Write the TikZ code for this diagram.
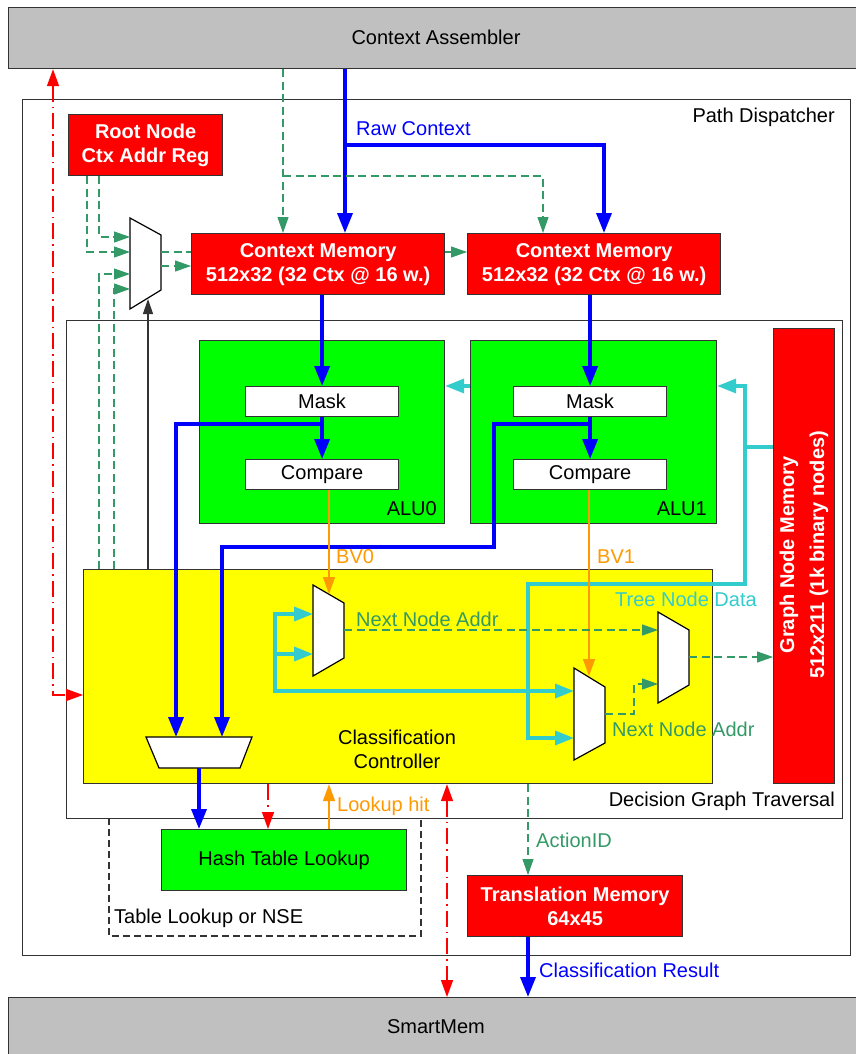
\documentclass[tikz,border=0pt]{standalone}
\usepackage{fontspec}
\setmainfont{Liberation Sans}
\usetikzlibrary{arrows.meta}
\definecolor{memred}{HTML}{FF0000}
\definecolor{alugreen}{HTML}{00FF00}
\definecolor{ctrlyellow}{HTML}{FFFF00}
\definecolor{hostgray}{HTML}{C0C0C0}
\definecolor{rawblue}{HTML}{0000FF}
\definecolor{treecyan}{HTML}{33CCCC}
\definecolor{bvorange}{HTML}{FF9900}
\definecolor{addrgreen}{HTML}{339966}
\definecolor{edge}{HTML}{333333}
\tikzset{
  cyantip/.tip={Triangle[length=19pt,width=14pt]},
  redtip/.tip={Triangle[length=17pt,width=12pt]}
}
\begin{document}
\begin{tikzpicture}[x=1pt,y=-1pt,
  font=\fontsize{20}{24}\selectfont,
  box/.style={draw=edge, line width=1.2pt, inner sep=0pt, anchor=north west},
  membox/.style={box, fill=memred, text=white, font=\fontsize{20}{24}\selectfont\bfseries, align=center},
  alubox/.style={box, fill=alugreen},
  unit/.style={box, fill=white},
  hostbox/.style={box, fill=hostgray},
  muxshape/.style={draw=black, line width=1.2pt, fill=white},
  lbl/.style={inner sep=0pt},
  bluearr/.style={draw=rawblue, line width=3.5pt, -{Triangle[length=20pt,width=15pt]}},
  cyanline/.style={draw=treecyan, line width=3.5pt},
  cyanarr/.style={cyanline, -cyantip},
  gdashline/.style={draw=addrgreen, line width=1.1pt, dash pattern=on 8pt off 4.5pt},
  gdash/.style={gdashline, -{Triangle[length=16pt,width=11pt]}},
  orangearr/.style={draw=bvorange, line width=1.6pt, -{Triangle[length=17pt,width=12pt]}},
  reddd/.style={draw=memred, line width=1.5pt, dash pattern=on 16pt off 5pt on 1.5pt off 5pt},
  blackarr/.style={draw=edge, line width=1.2pt, -{Triangle[length=15pt,width=10pt]}}
]
\useasboundingbox (0,0) rectangle (855,1054);

% ---------- outer blocks ----------
\node[hostbox, minimum width=870pt, minimum height=61pt] (ca) at (8,7) {};
\node[lbl] (catext) at (436,37) {Context Assembler};
\node[hostbox, minimum width=870pt, minimum height=80pt] (sm) at (8,997) {};
\node[lbl] (smtext) at (436,1027) {SmartMem};

\node[box, minimum width=828pt, minimum height=856pt] (pd) at (22,99) {};
\node[lbl, anchor=east] (pdtext) at (835,117) {Path Dispatcher};

% table lookup frame (top edge lies under the traversal frame)
\draw[edge, line width=1.2pt, dash pattern=on 7pt off 4pt] (109,818) rectangle (421,936);
\node[lbl, anchor=west] (nsetext) at (114,918) {Table Lookup or NSE};

\node[box, fill=white, minimum width=776pt, minimum height=498pt] (dgt) at (66,320) {};
\node[lbl, anchor=east] (dgttext) at (835,801) {Decision Graph Traversal};

% ---------- memories ----------
\node[membox, minimum width=154pt, minimum height=61pt] (root) at (68,114) {Root Node\\Ctx Addr Reg};
\node[membox, minimum width=253pt, minimum height=61pt] (cm0) at (191,233) {Context Memory\\512x32 (32 Ctx @ 16 w.)};
\node[membox, minimum width=253pt, minimum height=61pt] (cm1) at (467,233) {Context Memory\\512x32 (32 Ctx @ 16 w.)};
\node[membox, minimum width=61pt, minimum height=455pt] (gnm) at (773,328) {};
\node[lbl, rotate=90, text=white, font=\fontsize{20}{30}\selectfont\bfseries, align=center] (gnmtext) at (804,555) {Graph Node Memory\\512x211 (1k binary nodes)};
\node[membox, minimum width=215pt, minimum height=61pt] (tm) at (467,875) {Translation Memory\\64x45};

% ---------- ALUs ----------
\node[alubox, minimum width=245pt, minimum height=183pt] (alu0) at (199,340) {};
\node[lbl, anchor=east] (alu0text) at (437,509) {ALU0};
\node[unit, minimum width=153pt, minimum height=30pt] (mask0) at (245,386) {Mask};
\node[unit, minimum width=153pt, minimum height=30pt] (compare0) at (245,459) {Compare};

\node[alubox, minimum width=246pt, minimum height=183pt] (alu1) at (470,340) {};
\node[lbl, anchor=east] (alu1text) at (707,509) {ALU1};
\node[unit, minimum width=153pt, minimum height=30pt] (mask1) at (513,386) {Mask};
\node[unit, minimum width=153pt, minimum height=30pt] (compare1) at (513,459) {Compare};

% ---------- controller & lookup ----------
\node[box, fill=ctrlyellow, minimum width=629pt, minimum height=214pt] (cc) at (83,569) {};
\node[lbl, align=center] (cctext) at (397,749) {Classification\\Controller};
\node[alubox, minimum width=245pt, minimum height=61pt] (hash) at (161,829) {Hash Table Lookup};

% ---------- multiplexers ----------
\draw[muxshape] (130,218) -- (161,235) -- (161,290) -- (130,309) -- cycle;
\draw[muxshape] (146,737) -- (252,737) -- (240,768) -- (159,768) -- cycle;
\draw[muxshape] (313,585) -- (344,603) -- (344,658) -- (313,676) -- cycle;
\draw[muxshape] (574,668) -- (605,687) -- (605,743) -- (574,760) -- cycle;
\draw[muxshape] (658,612) -- (689,630) -- (689,685) -- (658,703) -- cycle;

% mux ports
\coordinate (m0i1) at (130,237);
\coordinate (m0i2) at (130,252);
\coordinate (m0i3) at (130,274);
\coordinate (m0i4) at (130,289);
\coordinate (m0o1) at (161,252);
\coordinate (m0o2) at (161,266);
\coordinate (m0s)  at (148,299);
\coordinate (mbi1) at (176,737);
\coordinate (mbi2) at (222,737);
\coordinate (mbo)  at (199,768);
\coordinate (m1i1) at (313,614);
\coordinate (m1i2) at (313,654);
\coordinate (m1s)  at (329,594);
\coordinate (m1o)  at (344,630);
\coordinate (m2i1) at (574,691);
\coordinate (m2i2) at (574,738);
\coordinate (m2s)  at (589,676);
\coordinate (m2o)  at (605,714);
\coordinate (m3i1) at (658,630);
\coordinate (m3i2) at (658,684);
\coordinate (m3o)  at (689,657);

% routing columns and rows
\coordinate (xraw)  at (345,0);
\coordinate (xraw1) at (604,0);
\coordinate (xgd)   at (283,0);
\coordinate (xgd1)  at (543,0);
\coordinate (x87)   at (87,0);
\coordinate (x99)   at (99,0);
\coordinate (x114)  at (114,0);
\coordinate (x268)  at (268,0);
\coordinate (x329)  at (329,0);
\coordinate (x447)  at (447,0);
\coordinate (x528)  at (528,0);
\coordinate (y252)  at (0,252);
\coordinate (y386)  at (0,386);
\coordinate (y424)  at (0,424);

% ---------- raw context (blue) ----------
\coordinate (rawsplit) at (345,145);
\draw[bluearr] (ca.south -| xraw) -- (cm0.north -| xraw);
\draw[bluearr] (rawsplit) -| (cm1.north -| xraw1);
\node[lbl, anchor=west, text=rawblue] (rawtext) at (356,129) {Raw Context};

% ---------- context addresses (green dashed) ----------
\coordinate (gsplit) at (283,176);
\draw[gdash] (ca.south -| xgd) -- (cm0.north -| xgd);
\draw[gdash] (gsplit) -| (cm1.north -| xgd1);
\draw[gdash] (cm0.east |- y252) -- (cm1.west |- y252);
\draw[gdash] (root.south -| x99) |- (m0i1);
\draw[gdash] (root.south -| x87) |- (m0i2);
\draw[gdash] (cc.north -| x99) |- (m0i3);
\draw[gdash] (cc.north -| x114) |- (m0i4);
\draw[gdashline] (m0o1) -- (cm0.west |- m0o1);
\draw[gdash] (m0o2) -- (cm0.west |- m0o2);
\draw[blackarr] (cc.north -| m0s) -- (m0s);

% ---------- context path through the ALUs ----------
\draw[bluearr] (cm0.south -| mask0.north) -- (mask0.north);
\draw[bluearr] (mask0.south) -- (compare0.north);
\draw[bluearr] (cm1.south -| mask1.north) -- (mask1.north);
\draw[bluearr] (mask1.south) -- (compare1.north);
\coordinate (b1bend) at (494,547);
\draw[bluearr] (mask0.south |- y424) -| (mbi1);
\draw[bluearr] (mask1.south |- y424) -| (b1bend) -| (mbi2);
\draw[bluearr] (mbo) -- (hash.north -| mbo);

% ---------- tree node data (cyan) ----------
\coordinate (cj) at (745,447);
\coordinate (cbend) at (528,584);
\coordinate (lpt) at (275,614);
\coordinate (lpb) at (275,691);
\draw[cyanline] (gnm.west |- cj) -- (cj);
\draw[cyanarr] (cj) |- (alu1.east |- y386);
\draw[cyanarr] (alu1.west |- y386) -- (alu0.east |- y386);
\draw[cyanarr] (cj) |- (cbend) |- (m2i2);
\draw[cyanline, cyantip-cyantip] (m1i1) -- (lpt) -- (lpb) -- (m2i1);
\draw[cyanarr] (lpt |- m1i2) -- (m1i2);
\node[lbl, anchor=west, text=treecyan] (tndtext) at (615,599) {Tree Node Data};

% ---------- branch vectors (orange) ----------
\draw[orangearr] (compare0.south -| x329) -- (m1s);
\node[lbl, anchor=west, text=bvorange] (bv0text) at (336,557) {BV0};
\draw[orangearr] (compare1.south -| m2s) -- (m2s);
\node[lbl, anchor=west, text=bvorange] (bv1text) at (597,557) {BV1};

% ---------- next node addresses ----------
\draw[gdash] (m1o) -- (m3i1);
\node[lbl, anchor=west, text=addrgreen] (nna1) at (356,619) {Next Node Addr};
\coordinate (m2bend) at (634,684);
\draw[gdash] (m2o) -| (m2bend) -- (m3i2);
\node[lbl, anchor=west, text=addrgreen] (nna2) at (612,729) {Next Node Addr};
\draw[gdash] (m3o) -- (gnm.west |- m3o);

% ---------- host / lookup interfaces ----------
\coordinate (rdcorner) at (53,695);
\draw[reddd, redtip-redtip] (ca.south -| rdcorner) -- (rdcorner) -- (cc.west |- rdcorner);
\draw[reddd, -redtip] (cc.south -| x268) -- (hash.north -| x268);
\draw[orangearr] (hash.north -| x329) -- (cc.south -| x329);
\node[lbl, anchor=west, text=bvorange] (hittext) at (337,806) {Lookup hit};
\draw[reddd, redtip-redtip] (cc.south -| x447) -- (sm.north -| x447);
\draw[gdash] (cc.south -| x528) -- (tm.north -| x528);
\node[lbl, anchor=west, text=addrgreen] (aidtext) at (536,840) {ActionID};
\draw[bluearr] (tm.south -| x528) -- (sm.north -| x528);
\node[lbl, anchor=west, text=rawblue] (crtext) at (539,970) {Classification Result};
\end{tikzpicture}
\end{document}
